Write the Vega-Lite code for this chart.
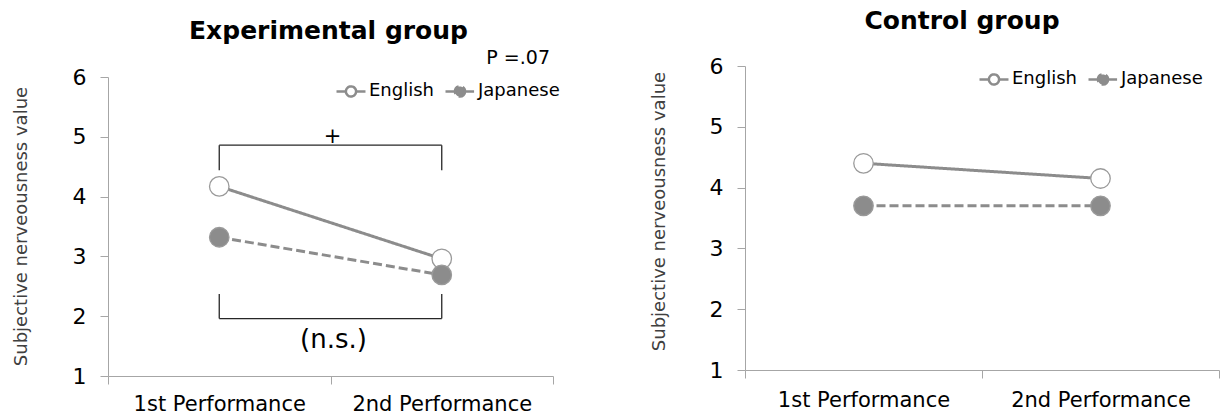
{
  "$schema": "https://vega.github.io/schema/vega-lite/v6.json",
  "background": "white",
  "padding": {"left": 12, "top": 9, "right": 5, "bottom": 0},
  "config": {
    "font": "DejaVu Sans",
    "view": {"stroke": null},
    "axis": {"grid": false, "labelFont": "DejaVu Sans", "titleFont": "DejaVu Sans"}
  },
  "datasets": {
    "experimental": [
      {"perf": "1st Performance", "lang": "English", "value": 4.17},
      {"perf": "2nd Performance", "lang": "English", "value": 2.96},
      {"perf": "1st Performance", "lang": "Japanese", "value": 3.32},
      {"perf": "2nd Performance", "lang": "Japanese", "value": 2.69}
    ],
    "control": [
      {"perf": "1st Performance", "lang": "English", "value": 4.4},
      {"perf": "2nd Performance", "lang": "English", "value": 4.15},
      {"perf": "1st Performance", "lang": "Japanese", "value": 3.7},
      {"perf": "2nd Performance", "lang": "Japanese", "value": 3.7}
    ]
  },
  "resolve": {
    "scale": {"x": "independent", "y": "independent", "fill": "independent", "strokeDash": "independent"},
    "legend": {"fill": "independent", "strokeDash": "independent"}
  },
  "spacing": 90,
  "hconcat": [
    {
      "width": 445,
      "height": 310,
      "title": {
        "text": "Experimental group",
        "fontSize": 25,
        "fontWeight": "bold",
        "color": "#000000",
        "frame": "group",
        "anchor": "middle",
        "baseline": "alphabetic",
        "offset": -15,
        "dx": -2
      },
      "layer": [
        {
          "data": {"name": "experimental"},
          "mark": {"type": "line", "strokeWidth": 3, "color": "#8c8c8c"},
          "encoding": {
            "x": {
              "field": "perf", "type": "nominal",
              "scale": {"paddingInner": 0, "paddingOuter": 0},
              "axis": {
                "title": null, "labelAngle": 0, "labelFontSize": 21, "labelColor": "#000000",
                "labelPadding": 9, "tickSize": 8, "tickBand": "extent",
                "domainColor": "#a6a6a6", "tickColor": "#a6a6a6"
              }
            },
            "y": {
              "field": "value", "type": "quantitative",
              "scale": {"domain": [1, 6], "range": [310, 11], "nice": false, "zero": false},
              "axis": {
                "title": "Subjective nerveousness value",
                "values": [1, 2, 3, 4, 5, 6], "format": "d",
                "labelFontSize": 22, "labelColor": "#000000", "labelPadding": 14,
                "tickSize": 8, "domainColor": "#a6a6a6", "tickColor": "#a6a6a6",
                "titleFontSize": 18, "titleFontWeight": "normal", "titleColor": "#404040",
                "titleX": -87, "titleY": 160, "titleBaseline": "middle", "labelOverlap": false
              }
            },
            "strokeDash": {
              "field": "lang", "type": "nominal",
              "scale": {"domain": ["English", "Japanese"], "range": [[1, 0], [9, 4]]},
              "legend": {
                "title": null, "orient": "none", "legendX": 227, "legendY": 9,
                "direction": "horizontal",
                "symbolType": "M-1,0H-0.35M0.35,0H1M0.35,0A0.35,0.35,0,1,1,-0.35,0A0.35,0.35,0,1,1,0.35,0Z",
                "symbolSize": 841, "symbolStrokeColor": "#8c8c8c", "symbolStrokeWidth": 2.5,
                "labelFontSize": 18, "labelColor": "#000000",
                "labelOffset": 2, "columnPadding": 6,
                "encode": {
                  "symbols": {
                    "update": {
                      "fill": {"signal": "datum.label === 'Japanese' ? '#8c8c8c' : '#ffffff'"},
                      "stroke": {"value": "#8c8c8c"},
                      "strokeWidth": {"value": 2.5}
                    }
                  }
                }
              }
            }
          }
        },
        {
          "data": {"name": "experimental"},
          "mark": {"type": "point", "shape": "circle", "filled": true, "size": 380, "opacity": 1, "stroke": "#9a9a9a", "strokeWidth": 1.3},
          "encoding": {
            "x": {"field": "perf", "type": "nominal"},
            "y": {"field": "value", "type": "quantitative"},
            "fill": {
              "field": "lang", "type": "nominal",
              "scale": {"domain": ["English", "Japanese"], "range": ["#ffffff", "#8c8c8c"]},
              "legend": null
            }
          }
        },
        {
          "data": {"values": [
            {"perf": "1st Performance", "perf2": "2nd Performance", "value": 4.86},
            {"perf": "1st Performance", "perf2": "2nd Performance", "value": 1.96}
          ]},
          "mark": {"type": "rule", "color": "#262626", "strokeWidth": 1.3},
          "encoding": {
            "x": {"field": "perf", "type": "nominal"},
            "x2": {"field": "perf2"},
            "y": {"field": "value", "type": "quantitative"}
          }
        },
        {
          "data": {"values": [
            {"perf": "1st Performance", "value": 4.86, "value2": 4.44},
            {"perf": "2nd Performance", "value": 4.86, "value2": 4.44},
            {"perf": "1st Performance", "value": 1.96, "value2": 2.37},
            {"perf": "2nd Performance", "value": 1.96, "value2": 2.37}
          ]},
          "mark": {"type": "rule", "color": "#262626", "strokeWidth": 1.3},
          "encoding": {
            "x": {"field": "perf", "type": "nominal"},
            "y": {"field": "value", "type": "quantitative"},
            "y2": {"field": "value2"}
          }
        },
        {
          "data": {"values": [{"perf": "1st Performance", "value": 5.0, "label": "+"}]},
          "mark": {"type": "text", "fontSize": 21, "color": "#000000", "baseline": "middle", "dx": 2},
          "encoding": {
            "x": {"field": "perf", "type": "nominal", "bandPosition": 1},
            "y": {"field": "value", "type": "quantitative"},
            "text": {"field": "label"}
          }
        },
        {
          "data": {"values": [{"perf": "1st Performance", "value": 1.6, "label": "(n.s.)"}]},
          "mark": {"type": "text", "fontSize": 26, "color": "#000000", "baseline": "middle", "dx": 3},
          "encoding": {
            "x": {"field": "perf", "type": "nominal", "bandPosition": 1},
            "y": {"field": "value", "type": "quantitative"},
            "text": {"field": "label"}
          }
        },
        {
          "data": {"values": [{"perf": "2nd Performance", "value": 6.22, "label": "P =.07"}]},
          "mark": {"type": "text", "fontSize": 19, "color": "#000000", "align": "right", "baseline": "alphabetic", "dx": -3},
          "encoding": {
            "x": {"field": "perf", "type": "nominal", "bandPosition": 1},
            "y": {"field": "value", "type": "quantitative"},
            "text": {"field": "label"}
          }
        }
      ]
    },
    {
      "width": 474,
      "height": 304,
      "title": {
        "text": "Control group",
        "fontSize": 25,
        "fontWeight": "bold",
        "color": "#000000",
        "frame": "group",
        "anchor": "middle",
        "baseline": "alphabetic",
        "offset": 1,
        "dx": -20
      },
      "layer": [
        {
          "data": {"name": "control"},
          "mark": {"type": "line", "strokeWidth": 3, "color": "#8c8c8c"},
          "encoding": {
            "x": {
              "field": "perf", "type": "nominal",
              "scale": {"paddingInner": 0, "paddingOuter": 0},
              "axis": {
                "title": null, "labelAngle": 0, "labelFontSize": 21, "labelColor": "#000000",
                "labelPadding": 11, "tickSize": 8, "tickBand": "extent",
                "domainColor": "#a6a6a6", "tickColor": "#a6a6a6"
              }
            },
            "y": {
              "field": "value", "type": "quantitative",
              "scale": {"domain": [1, 6], "nice": false, "zero": false},
              "axis": {
                "title": "Subjective nerveousness value",
                "values": [1, 2, 3, 4, 5, 6], "format": "d",
                "labelFontSize": 22, "labelColor": "#000000", "labelPadding": 14,
                "tickSize": 8, "domainColor": "#a6a6a6", "tickColor": "#a6a6a6",
                "titleFontSize": 18, "titleFontWeight": "normal", "titleColor": "#404040",
                "titleX": -86, "titleY": 145, "titleBaseline": "middle", "labelOverlap": false
              }
            },
            "strokeDash": {
              "field": "lang", "type": "nominal",
              "scale": {"domain": ["English", "Japanese"], "range": [[1, 0], [9, 4]]},
              "legend": {
                "title": null, "orient": "none", "legendX": 233, "legendY": -3,
                "direction": "horizontal",
                "symbolType": "M-1,0H-0.35M0.35,0H1M0.35,0A0.35,0.35,0,1,1,-0.35,0A0.35,0.35,0,1,1,0.35,0Z",
                "symbolSize": 841, "symbolStrokeColor": "#8c8c8c", "symbolStrokeWidth": 2.5,
                "labelFontSize": 18, "labelColor": "#000000",
                "labelOffset": 2, "columnPadding": 6,
                "encode": {
                  "symbols": {
                    "update": {
                      "fill": {"signal": "datum.label === 'Japanese' ? '#8c8c8c' : '#ffffff'"},
                      "stroke": {"value": "#8c8c8c"},
                      "strokeWidth": {"value": 2.5}
                    }
                  }
                }
              }
            }
          }
        },
        {
          "data": {"name": "control"},
          "mark": {"type": "point", "shape": "circle", "filled": true, "size": 380, "opacity": 1, "stroke": "#9a9a9a", "strokeWidth": 1.3},
          "encoding": {
            "x": {"field": "perf", "type": "nominal"},
            "y": {"field": "value", "type": "quantitative"},
            "fill": {
              "field": "lang", "type": "nominal",
              "scale": {"domain": ["English", "Japanese"], "range": ["#ffffff", "#8c8c8c"]},
              "legend": null
            }
          }
        }
      ]
    }
  ]
}
